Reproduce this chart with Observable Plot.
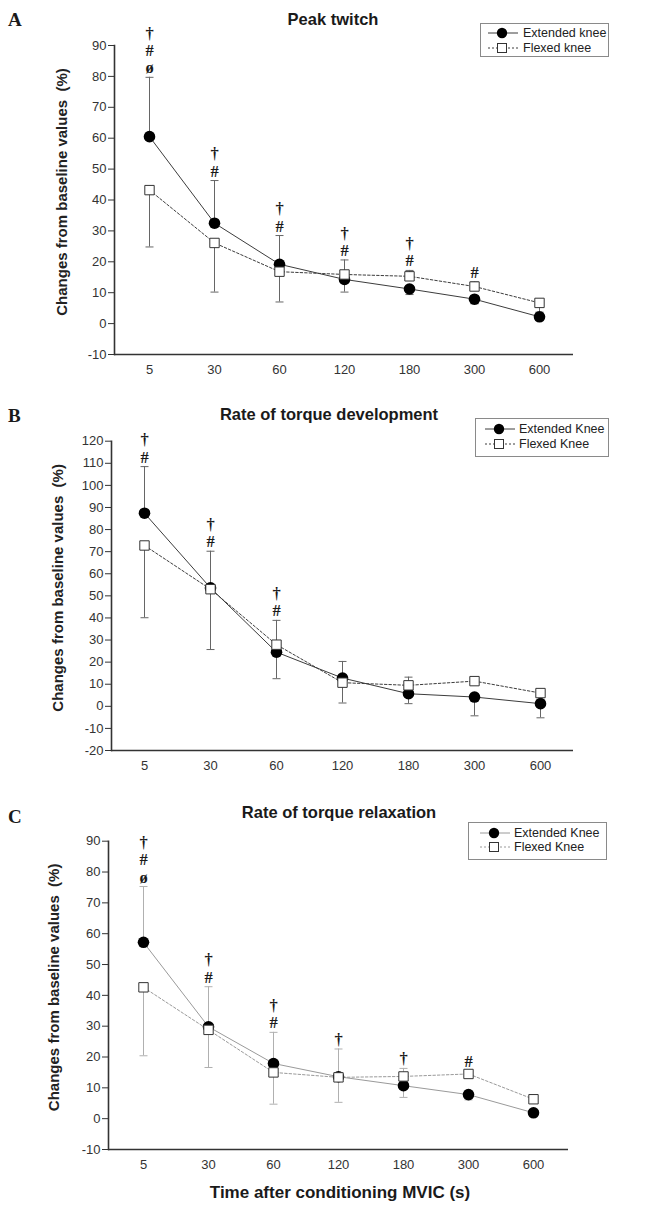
<!DOCTYPE html>
<html>
<head>
<meta charset="utf-8">
<script src="https://cdn.jsdelivr.net/npm/d3@7"></script>
<script src="https://cdn.jsdelivr.net/npm/@observablehq/plot@0.6"></script>
<style>
  html, body { margin: 0; padding: 0; background: #fff; }
  body { width: 645px; height: 1209px; position: relative; overflow: hidden; font-family: "Liberation Sans", Arial, sans-serif; color: #1a1a1a; }
  .panel { position: absolute; left: 0; width: 645px; }
  .panel svg { display: block; }
  .letter { position: absolute; font-family: "Liberation Serif", "Times New Roman", serif; font-weight: bold; font-size: 19px; line-height: 1; transform: translateY(-50%); }
  .title { position: absolute; font-weight: bold; font-size: 16.5px; line-height: 1; white-space: nowrap; transform: translate(-50%, -50%); }
  .xtitle { position: absolute; font-weight: bold; font-size: 17px; line-height: 1; white-space: nowrap; transform: translate(-50%, -50%); }
  .legend { position: absolute; border: 1px solid #8a8a8a; box-sizing: border-box; background: #fff; }
  .legend .row { position: absolute; left: 0; height: 14px; transform: translateY(-50%); }
  .legend svg { position: absolute; top: 0; }
  .legend span { position: absolute; top: 0; font-size: 12.5px; line-height: 14px; white-space: nowrap; color: #222; }
</style>
</head>
<body>
<script>
// ---------- shared categories ----------
const times = ["5", "30", "60", "120", "180", "300", "600"];
const yLabel = "Changes from baseline values\u00a0 (%)";
const xTitle = "Time after conditioning MVIC (s)";

// ---------- Panel A : Peak twitch ----------
const titleA = "Peak twitch";
const seriesA = ["Extended knee", "Flexed knee"];
const ticksA = [-10, 0, 10, 20, 30, 40, 50, 60, 70, 80, 90];
const extA    = [60.5, 32.5, 19.2, 14.3, 11.2, 7.9, 2.2];
const extAsd  = [19.2, 13.8, 9.3, 4.1, 1.8, 1.5, 1.2];
const extAdir = [1, 1, 1, -1, -1, -1, -1];
const flxA    = [43.2, 26.1, 16.8, 15.9, 15.3, 12.0, 6.7];
const flxAsd  = [18.4, 15.9, 9.8, 4.7, 1.9, 1.5, 3.0];
const flxAdir = [-1, -1, -1, 1, 1, 1, -1];
const noteTimesA  = ["5", "30", "60", "120", "180", "300"];
const noteLabelsA = ["†\n#\nø", "†\n#", "†\n#", "†\n#", "†\n#", "#"];

// ---------- Panel B : Rate of torque development ----------
const titleB = "Rate of torque development";
const seriesB = ["Extended Knee", "Flexed Knee"];
const ticksB = [-20, -10, 0, 10, 20, 30, 40, 50, 60, 70, 80, 90, 100, 110, 120];
const extB    = [87.4, 53.6, 24.5, 12.8, 5.7, 4.2, 1.2];
const extBsd  = [21.1, 16.6, 12.0, 7.5, 4.5, 8.5, 6.4];
const extBdir = [1, 1, -1, 1, -1, -1, -1];
const flxB    = [72.8, 53.0, 27.9, 10.7, 9.5, 11.4, 6.0];
const flxBsd  = [32.7, 27.3, 11.0, 9.2, 3.7, 1.0, 1.0];
const flxBdir = [-1, -1, 1, -1, 1, 1, 1];
const noteTimesB  = ["5", "30", "60"];
const noteLabelsB = ["†\n#", "†\n#", "†\n#"];

// ---------- Panel C : Rate of torque relaxation ----------
const titleC = "Rate of torque relaxation";
const seriesC = ["Extended Knee", "Flexed Knee"];
const ticksC = [-10, 0, 10, 20, 30, 40, 50, 60, 70, 80, 90];
const extC    = [57.2, 29.8, 17.9, 13.6, 10.7, 7.8, 1.9];
const extCsd  = [18.1, 13.0, 10.1, 9.0, 3.8, 1.7, 1.0];
const extCdir = [1, 1, 1, 1, -1, -1, -1];
const flxC    = [42.6, 28.8, 15.0, 13.4, 13.7, 14.5, 6.3];
const flxCsd  = [22.2, 12.2, 10.3, 8.1, 2.6, 1.0, 1.0];
const flxCdir = [-1, -1, -1, -1, 1, 1, -1];
const noteTimesC  = ["5", "30", "60", "120", "180", "300"];
const noteLabelsC = ["†\n#\nø", "†\n#", "†\n#", "†", "†", "#"];

// ---------- helpers ----------
function mk(values, sd, dir) {
  return times.map((t, i) => ({ time: t, value: values[i], end: values[i] + dir[i] * sd[i] }));
}

// horizontal cap symbol for error bars
const capSymbol = {
  draw(context, size) {
    const h = Math.sqrt(size / Math.PI);
    context.moveTo(-h, 0);
    context.lineTo(h, 0);
  }
};

function addDiv(cls, styles, text) {
  const d = document.createElement("div");
  d.className = cls;
  Object.assign(d.style, styles);
  if (text != null) d.textContent = text;
  document.body.appendChild(d);
  return d;
}

function legendSymbol(kind, lineColor) {
  const ns = "http://www.w3.org/2000/svg";
  const s = document.createElementNS(ns, "svg");
  s.setAttribute("width", 32); s.setAttribute("height", 14);
  const l = document.createElementNS(ns, "line");
  l.setAttribute("x1", 1); l.setAttribute("x2", 31); l.setAttribute("y1", 7); l.setAttribute("y2", 7);
  l.setAttribute("stroke", lineColor); l.setAttribute("stroke-width", 1);
  if (kind === "square") l.setAttribute("stroke-dasharray", "2,2");
  s.appendChild(l);
  if (kind === "circle") {
    const c = document.createElementNS(ns, "circle");
    c.setAttribute("cx", 15); c.setAttribute("cy", 7); c.setAttribute("r", 5.2); c.setAttribute("fill", "#000");
    s.appendChild(c);
  } else {
    const r = document.createElementNS(ns, "rect");
    r.setAttribute("x", 10.5); r.setAttribute("y", 2.5); r.setAttribute("width", 9); r.setAttribute("height", 9);
    r.setAttribute("fill", "#fff"); r.setAttribute("stroke", "#333"); r.setAttribute("stroke-width", 1);
    s.appendChild(r);
  }
  return s;
}

function legend(box, names, lineColor) {
  const L = addDiv("legend", { left: box.x + "px", top: box.y + "px", width: box.w + "px", height: box.h + "px" });
  ["circle", "square"].forEach((kind, i) => {
    const row = document.createElement("div");
    row.className = "row";
    row.style.top = (box.rows[i]) + "px";
    row.style.width = box.w + "px";
    const sym = legendSymbol(kind, lineColor);
    sym.style.left = box.sym + "px";
    row.appendChild(sym);
    const sp = document.createElement("span");
    sp.style.left = box.text + "px";
    sp.textContent = names[i];
    row.appendChild(sp);
    L.appendChild(row);
  });
}

function panel(cfg) {
  const E = mk(...cfg.ext), F = mk(...cfg.flx);
  const bars = [...E, ...F].filter(d => d.end !== d.value);
  const notes = cfg.noteTimes.map((t, i) => {
    const k = times.indexOf(t);
    return { time: t, label: cfg.noteLabels[i], y: Math.max(E[k].value, E[k].end, F[k].value, F[k].end) };
  });
  const svg = Plot.plot({
    width: 645, height: cfg.height,
    marginTop: cfg.mt, marginBottom: cfg.mb, marginLeft: cfg.ml, marginRight: cfg.mr,
    style: { fontFamily: "Liberation Sans, Arial, sans-serif", background: "transparent", color: "#222" },
    x: { type: "point", domain: times, padding: 0.5 },
    y: { domain: [cfg.ticks[0], cfg.ticks[cfg.ticks.length - 1]] },
    marks: [
      Plot.axisX({ tickSize: 0, tickPadding: 10, fontSize: 13, color: "#333", label: null }),
      Plot.axisY({ ticks: cfg.ticks, tickFormat: d => String(d), tickSize: 6, tickPadding: 2, fontSize: 13, color: "#333", label: null }),
      Plot.ruleY([cfg.ticks[0]], { stroke: "#333", strokeWidth: 1.6 }),
      Plot.frame({ anchor: "left", stroke: "#333", strokeWidth: 1.6 }),
      Plot.text([yLabel], { frameAnchor: "left", rotate: -90, textAnchor: "middle", lineAnchor: "middle",
        dx: cfg.labelDx, dy: -8, fontWeight: "bold", fontSize: 15, fill: "#222" }),
      Plot.ruleX(bars, { x: "time", y1: "value", y2: "end", stroke: cfg.errColor, strokeWidth: 1 }),
      Plot.dot(bars, { x: "time", y: "end", symbol: capSymbol, r: 4, fill: "none", stroke: cfg.errColor, strokeWidth: 1 }),
      Plot.line(E, { x: "time", y: "value", stroke: cfg.lineColor, strokeWidth: 1 }),
      Plot.line(F, { x: "time", y: "value", stroke: cfg.lineColor, strokeWidth: 1, strokeDasharray: "2.5,2" }),
      Plot.dot(E, { x: "time", y: "value", r: 5.8, fill: "#000", stroke: "none" }),
      Plot.dot(F, { x: "time", y: "value", symbol: "square", r: 5.3, fill: "#fff", stroke: "#333", strokeWidth: 1 }),
      Plot.text(notes, { x: "time", y: "y", text: "label", lineAnchor: "bottom", dy: -4,
        fontFamily: "Liberation Serif, Times New Roman, serif", fontWeight: "bold", fontSize: 16.5, lineHeight: 1.05, fill: "#1a1a1a" })
    ]
  });
  const wrap = addDiv("panel", { top: cfg.top + "px", height: cfg.height + "px" });
  wrap.appendChild(svg);
  addDiv("letter", { left: "8px", top: cfg.letterY + "px" }, cfg.letter);
  addDiv("title", { left: cfg.titleX + "px", top: cfg.titleY + "px" }, cfg.title);
  legend(cfg.legend, cfg.series, cfg.lineColor);
}

panel({
  top: 0, height: 395, mt: 45, mb: 41, ml: 114, mr: 72, labelDx: -52,
  ticks: ticksA, ext: [extA, extAsd, extAdir], flx: [flxA, flxAsd, flxAdir],
  noteTimes: noteTimesA, noteLabels: noteLabelsA,
  lineColor: "#3c3c3c", errColor: "#666",
  letter: "A", letterY: 19, title: titleA, titleX: 333, titleY: 19, series: seriesA,
  legend: { x: 480, y: 23, w: 129, h: 34, rows: [9, 24], sym: 6, text: 42 }
});
panel({
  top: 395, height: 395, mt: 45.7, mb: 40, ml: 111, mr: 72, labelDx: -53,
  ticks: ticksB, ext: [extB, extBsd, extBdir], flx: [flxB, flxBsd, flxBdir],
  noteTimes: noteTimesB, noteLabels: noteLabelsB,
  lineColor: "#3c3c3c", errColor: "#666",
  letter: "B", letterY: 415, title: titleB, titleX: 329, titleY: 414, series: seriesB,
  legend: { x: 475, y: 418, w: 134, h: 39, rows: [10, 25], sym: 8, text: 43 }
});
panel({
  top: 790, height: 419, mt: 50.7, mb: 60, ml: 108, mr: 77, labelDx: -54,
  ticks: ticksC, ext: [extC, extCsd, extCdir], flx: [flxC, flxCsd, flxCdir],
  noteTimes: noteTimesC, noteLabels: noteLabelsC,
  lineColor: "#9a9a9a", errColor: "#b0b0b0",
  letter: "C", letterY: 816, title: titleC, titleX: 339, titleY: 812, series: seriesC,
  legend: { x: 468, y: 822, w: 139, h: 38, rows: [10, 24], sym: 10, text: 45 }
});
addDiv("xtitle", { left: "340px", top: "1192px" }, xTitle);
</script>
</body>
</html>
